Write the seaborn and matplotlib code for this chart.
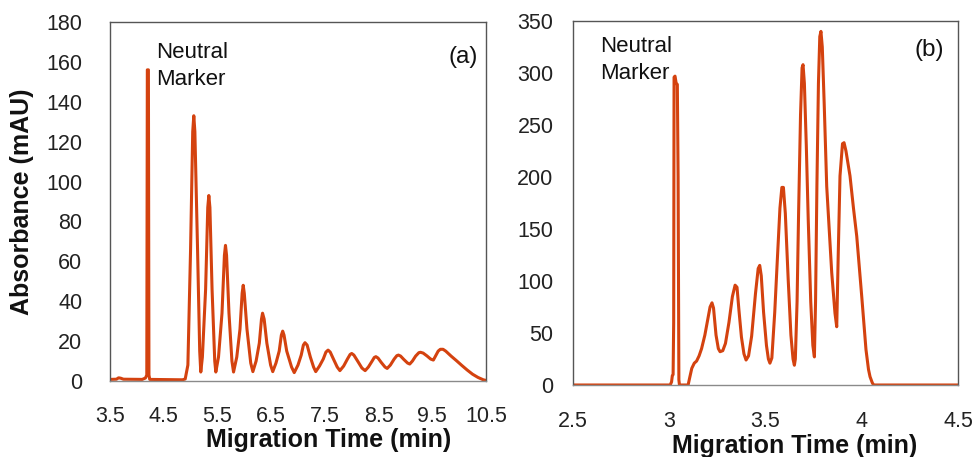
import numpy as np
import pandas as pd
import matplotlib
matplotlib.use("Agg")
import matplotlib.pyplot as plt
import seaborn as sns

# ---------------- data ----------------
# Panel (a): migration time (min) and absorbance (mAU) of the trace
time_a = [3.50, 3.62, 3.66, 3.70, 3.75, 4.10, 4.16, 4.185, 4.195, 4.215, 4.225, 4.24,
          4.85, 4.90, 4.95, 5.00, 5.04, 5.06, 5.08, 5.13, 5.17, 5.19,
          5.22, 5.28, 5.32, 5.34, 5.36, 5.40, 5.45, 5.47,
          5.52, 5.585, 5.63, 5.65, 5.67, 5.715, 5.77, 5.80,
          5.86, 5.92, 5.96, 5.98, 6.00, 6.05, 6.12, 6.16,
          6.22, 6.28, 6.32, 6.34, 6.37, 6.42, 6.49, 6.53,
          6.59, 6.65, 6.69, 6.715, 6.74, 6.79, 6.88, 6.93,
          7.00, 7.06, 7.10, 7.13, 7.17, 7.23, 7.29, 7.33,
          7.40, 7.47, 7.52, 7.56, 7.60, 7.66, 7.73, 7.78,
          7.85, 7.92, 7.97, 8.00, 8.04, 8.11, 8.19, 8.25,
          8.31, 8.38, 8.42, 8.45, 8.49, 8.55, 8.62, 8.66,
          8.72, 8.79, 8.84, 8.87, 8.91, 8.97, 9.04, 9.08,
          9.13, 9.19, 9.25, 9.28, 9.33, 9.40, 9.47, 9.52,
          9.56, 9.61, 9.65, 9.70, 9.75, 9.85, 9.95, 10.05, 10.15, 10.25, 10.35, 10.45, 10.50]
abs_a = [0.8, 0.9, 1.6, 1.4, 0.9, 0.8, 1.5, 3.0, 156, 156, 3.0, 0.8,
         0.6, 1.0, 8.0, 66, 125, 133, 125, 66, 15, 4.5,
         12, 46, 87, 93, 87, 46, 10, 4.5,
         12, 34, 63, 68, 63, 34, 10, 4.5,
         12, 26, 44, 48, 44, 26, 9, 4.7,
         10, 19, 31, 34, 31, 19, 8, 4.7,
         9, 15, 23, 25, 23, 15, 7, 4.2,
         8, 13, 18, 19.2, 18, 12, 7, 4.7,
         7.5, 11, 14.5, 15.5, 14.5, 11, 7, 5.2,
         7.5, 11, 13.3, 13.8, 13, 10, 6.5, 5.2,
         7, 10, 11.8, 12.2, 11.5, 9.3, 7, 6.3,
         8, 11, 12.7, 13, 12.5, 10.8, 9, 8.5,
         10, 12.5, 14.2, 14.4, 14, 12.6, 11, 10.5,
         12.5, 15, 15.9, 15.9, 15, 12.5, 10.2, 7.8, 5.5, 3.4, 1.8, 0.6, 0.3]

# Panel (b)
time_b = [2.50, 3.005, 3.012, 3.016, 3.020, 3.023, 3.025, 3.030, 3.036, 3.042, 3.046, 3.050, 3.053,
          3.098, 3.105, 3.117, 3.130, 3.142, 3.155, 3.168, 3.185, 3.200, 3.212, 3.222, 3.230,
          3.243, 3.255, 3.264, 3.278, 3.292, 3.310, 3.328, 3.342, 3.352, 3.362, 3.375, 3.388, 3.399,
          3.412, 3.428, 3.448, 3.462, 3.470, 3.478, 3.490, 3.505, 3.515, 3.523,
          3.533, 3.548, 3.560, 3.575, 3.585, 3.593, 3.603, 3.618, 3.632, 3.643, 3.650,
          3.655, 3.664, 3.672, 3.682, 3.690, 3.695, 3.702, 3.712, 3.722, 3.735, 3.746, 3.754,
          3.760, 3.767, 3.775, 3.782, 3.788, 3.795, 3.805, 3.818, 3.844, 3.861, 3.870,
          3.878, 3.887, 3.900, 3.908, 3.918, 3.939, 3.957, 3.974, 4.000, 4.022, 4.035, 4.043, 4.055, 4.062,
          4.50]
abs_b = [0, 0, 3, 9, 10, 60, 296, 297, 290, 289, 200, 5, 0,
         0, 6, 16, 21, 23, 28, 35, 48, 63, 75, 79, 74,
         48, 35, 32, 33, 40, 60, 85, 96, 94, 72, 46, 30, 24,
         28, 47, 88, 112, 115, 105, 70, 38, 25, 21,
         26, 70, 115, 170, 190, 190, 165, 101, 48, 25, 19,
         25, 80, 166, 260, 305, 308, 290, 230, 159, 80, 38, 27,
         80, 191, 290, 335, 340, 325, 270, 191, 108, 69, 56,
         127, 201, 232, 233, 225, 201, 170, 143, 85, 34, 15, 8, 2, 0,
         0]

xticks_a = [3.5, 4.5, 5.5, 6.5, 7.5, 8.5, 9.5, 10.5]
yticks_a = [0, 20, 40, 60, 80, 100, 120, 140, 160, 180]
xticks_b = [2.5, 3, 3.5, 4, 4.5]
yticks_b = [0, 50, 100, 150, 200, 250, 300, 350]
xtick_labels_b = ["2.5", "3", "3.5", "4", "4.5"]

# ---------------- plotting ----------------
sns.set_theme(style="white")
plt.rcParams['font.family'] = ['Liberation Sans', 'DejaVu Sans']

LINE = '#d4420f'
FRAME = '#555555'

fig = plt.figure(figsize=(9.75, 4.57), dpi=100)
ax_a = fig.add_axes([110/975, 1-381/457, (486-110)/975, (381-22)/457])
ax_b = fig.add_axes([573/975, 1-385/457, (958-573)/975, (385-21)/457])

df_a = pd.DataFrame({"t": time_a, "A": abs_a})
df_b = pd.DataFrame({"t": time_b, "A": abs_b})

sns.lineplot(data=df_a, x="t", y="A", ax=ax_a, color=LINE, lw=2.2, estimator=None, sort=False)
sns.lineplot(data=df_b, x="t", y="A", ax=ax_b, color=LINE, lw=2.2, estimator=None, sort=False)

for ax in (ax_a, ax_b):
    for s in ax.spines.values():
        s.set_visible(True)
        s.set_color(FRAME)
        s.set_linewidth(1.0)
    ax.spines['bottom'].set_color('#8a8a8a')
    ax.set_xlabel("Migration Time (min)", fontsize=18, fontweight='bold', color='#111111')
    ax.tick_params(axis='both', labelsize=15.5, colors='#222222', length=5, width=1)

ax_a.set_xlim(3.5, 10.5)
ax_a.set_ylim(0, 180)
ax_a.set_xticks(xticks_a)
ax_a.set_xticklabels([f"{v:g}" for v in xticks_a])
ax_a.set_yticks(yticks_a)
ax_a.tick_params(axis='x', direction='in', color='#999999', pad=18)
ax_a.tick_params(axis='y', direction='out', color='#777777', pad=15)
ax_a.set_ylabel("Absorbance (mAU)", fontsize=18, fontweight='bold', color='#111111')
ax_a.yaxis.set_label_coords(-0.202, 0.5)
ax_a.xaxis.set_label_coords(0.582, -0.132)

ax_b.set_xlim(2.5, 4.5)
ax_b.set_ylim(0, 350)
ax_b.set_xticks(xticks_b)
ax_b.set_xticklabels(xtick_labels_b)
ax_b.set_yticks(yticks_b)
ax_b.tick_params(axis='x', direction='in', color='#555555', pad=19)
ax_b.tick_params(axis='y', direction='in', color='#777777', pad=14)
ax_b.set_ylabel("")
ax_b.xaxis.set_label_coords(0.575, -0.135)

ax_a.text(4.36, 170, "Neutral\nMarker", fontsize=16, color='#111111', va='top', ha='left',
          linespacing=1.4)
ax_a.text(10.34, 168, "(a)", fontsize=17.5, color='#111111', va='top', ha='right')
ax_b.text(2.64, 336, "Neutral\nMarker", fontsize=16, color='#111111', va='top', ha='left',
          linespacing=1.4)
ax_b.text(4.425, 333, "(b)", fontsize=17.5, color='#111111', va='top', ha='right')

fig.savefig("out.png", dpi=100)
